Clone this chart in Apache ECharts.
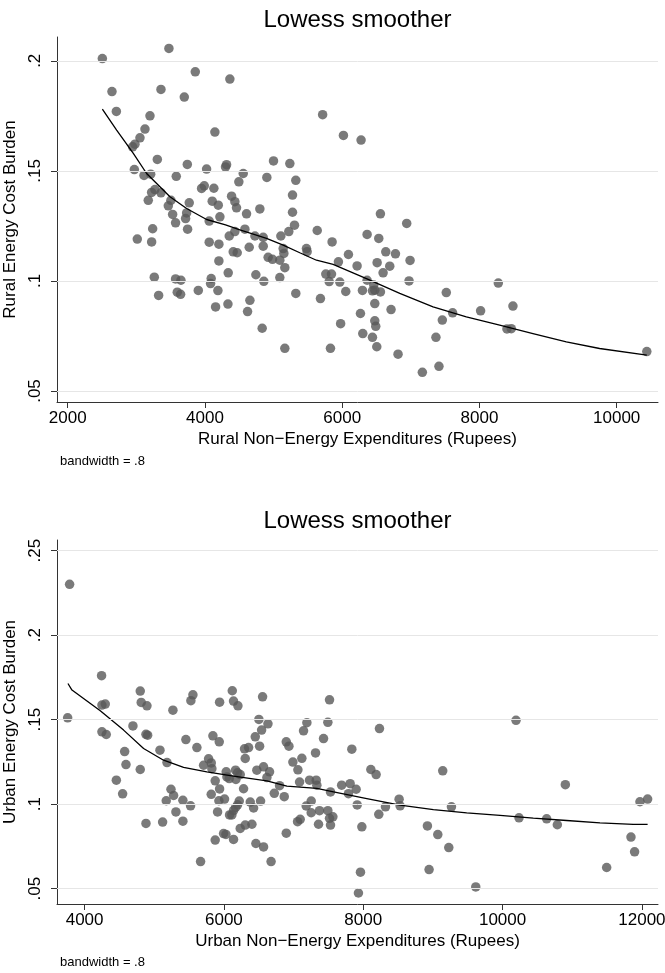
<!DOCTYPE html>
<html>
<head>
<meta charset="utf-8">
<script src="https://cdn.jsdelivr.net/npm/echarts@6/dist/echarts.min.js"></script>
<style>
  html, body { margin: 0; padding: 0; background: #fff; }
  #chart { width: 665px; height: 973px; }
</style>
</head>
<body>
<div id="chart"></div>
<script>
// rural panel
const ruralX = [2505, 3475, 2645, 2709, 3359, 3859, 3699, 4363, 3199, 3126, 3053, 2980, 2946, 4145, 5715,
  3306, 2971, 3112, 3209, 3743, 4024, 4300, 4315, 4558, 4494, 4902, 4999, 5237, 5324, 3582, 3951, 3990,
  4130, 3223, 3271, 3359, 3174, 3504, 3466, 3771, 4106, 4194, 4388, 4436, 4460, 4606, 4800, 5276, 5276,
  5305, 3529, 3733, 3718, 3572, 4062, 4218, 3238, 3747, 4582, 5222, 5636, 3014, 3223, 4062, 4203, 4354,
  4436, 4728, 4849, 4849, 4645, 4412, 4470, 5106, 5853, 5140, 5150, 4921, 4984, 5091, 5164, 4203, 4339,
  4742, 4858, 5091, 3262, 3572, 3650, 4091, 4082, 3325, 3597, 3645, 3903, 4189, 4155, 4335, 4655, 4621,
  4834, 5164, 5324, 5683, 5761, 5844, 5810, 5945, 5965, 5977, 5829, 5479, 5489, 6091, 6052, 6217, 6295,
  6363, 6363, 6533, 6557, 6509, 6635, 6776, 6693, 6596, 6940, 6989, 6974, 6460, 6475, 6441, 6557, 6475,
  6266, 6712, 6475, 6489, 6300, 6441, 6504, 6814, 7168, 7410, 7366, 7459, 7517, 7609, 8017, 8275, 8488,
  8401, 8464, 10439, 6018, 6275]
const ruralY = [0.201, 0.2056, 0.186, 0.177, 0.187, 0.195, 0.1835, 0.1917, 0.175, 0.169, 0.165, 0.1621, 0.1609, 0.1676, 0.1755,
  0.1552, 0.1506, 0.1479, 0.1485, 0.1529, 0.1508, 0.1518, 0.1528, 0.1488, 0.145, 0.147, 0.1545, 0.1533, 0.1457, 0.1475, 0.142, 0.1432,
  0.1421, 0.1402, 0.1415, 0.14, 0.1366, 0.1366, 0.1341, 0.1355, 0.1362, 0.1344, 0.1385, 0.136, 0.1332, 0.1305, 0.1327, 0.139, 0.1312,
  0.1253, 0.1302, 0.1309, 0.1283, 0.1264, 0.1272, 0.1291, 0.1237, 0.1235, 0.1235, 0.1224, 0.1229, 0.119, 0.1177, 0.1176, 0.1167, 0.1204,
  0.1224, 0.1204, 0.1198, 0.1158, 0.1153, 0.1132, 0.1128, 0.1204, 0.1177, 0.1147, 0.1125, 0.1107, 0.1098, 0.1094, 0.106, 0.1091, 0.1037,
  0.1028, 0.0998, 0.1015, 0.1017, 0.1009, 0.1003, 0.1011, 0.0988, 0.0934, 0.0949, 0.0939, 0.0957, 0.0956, 0.0882, 0.0895, 0.0912, 0.0861,
  0.0785, 0.0694, 0.0943, 0.092, 0.1031, 0.1031, 0.0997, 0.1087, 0.0995, 0.0806, 0.0694, 0.1147, 0.1133, 0.112, 0.0952, 0.1068, 0.0957,
  0.1003, 0.1211, 0.1193, 0.1305, 0.1083, 0.1132, 0.1123, 0.1067, 0.1037, 0.1261, 0.1093, 0.1, 0.0981, 0.0958, 0.0955, 0.095, 0.0897,
  0.0852, 0.087, 0.0819, 0.0794, 0.0761, 0.0744, 0.0701, 0.0667, 0.0585, 0.0612, 0.0744, 0.0822, 0.0947, 0.0855, 0.0864, 0.099, 0.0886,
  0.0782, 0.0783, 0.0679, 0.1661, 0.164]
const ruralFitX = [2505, 2713, 2956, 3150, 3490, 3733, 4024, 4300, 4509, 4897, 5140, 5382, 5625, 5868, 6353, 6839, 7324, 7809, 8295, 8780, 9266, 9751, 10439]
const ruralFitY = [0.178, 0.1685, 0.1579, 0.1488, 0.1382, 0.1329, 0.1279, 0.1255, 0.1232, 0.1193, 0.1163, 0.1128, 0.1094, 0.1075, 0.101, 0.0943, 0.0882, 0.0837, 0.0799, 0.0761, 0.0723, 0.0693, 0.0663]
const ruralXTicks = [2000, 4000, 6000, 8000, 10000]
const ruralYTicks = [0.05, 0.1, 0.15, 0.2]

// urban panel
const urbanX = [3785, 4244, 4799, 5555, 5526, 6120, 6555, 7516, 4249, 4297, 4813, 4895, 5268, 5938, 6138, 6201,
  3757, 4249, 4311, 4694, 4881, 4905, 4575, 4594, 4799, 4456, 4546, 4881, 5082, 5183, 5240, 5278, 5172, 5311,
  5411, 5411, 5120, 5521, 5454, 5612, 5708, 5780, 5818, 5827, 5842, 5933, 5665, 5875, 5938, 5818, 5928, 6009,
  5909, 5875, 5995, 6029, 6033, 6043, 6077, 6167, 6196, 6234, 6172, 6282, 6220, 6196, 6167, 6138, 6081, 6114,
  6138, 6234, 6306, 6402, 6306, 6296, 6354, 6450, 6502, 6541, 6632, 6512, 6473, 6569, 6655, 6617, 6378, 6426,
  6526, 6459, 6569, 6677, 6723, 6799, 6866, 6895, 6895, 6933, 6990, 7062, 7119, 7143, 7191, 7086, 7229, 7325,
  7334, 7315, 7430, 7492, 7253, 7181, 7253, 7372, 7358, 7492, 7516, 7530, 7564, 7057, 7095, 7530, 7690, 7836,
  7812, 7788, 7898, 7913, 7980, 8233, 8109, 8185, 8223, 8319, 8515, 8529, 7960, 7931, 8921, 9070, 9228, 9141,
  9266, 8945, 9615, 10193, 10236, 10633, 10786, 10901, 11494, 11843, 11895, 11972, 12082]
const urbanY = [0.2301, 0.176, 0.1669, 0.1647, 0.1612, 0.1671, 0.1635, 0.1617, 0.1586, 0.1592, 0.1602, 0.1582, 0.1556, 0.1603, 0.161, 0.1582,
  0.1511, 0.1428, 0.1412, 0.1463, 0.1413, 0.1408, 0.1311, 0.1234, 0.1205, 0.1142, 0.1061, 0.0886, 0.1319, 0.1246, 0.1088, 0.1051, 0.102, 0.0954,
  0.1023, 0.0899, 0.0894, 0.099, 0.1382, 0.1335, 0.123, 0.1268, 0.1244, 0.121, 0.1404, 0.1369, 0.066, 0.1138, 0.109, 0.1058, 0.102, 0.103,
  0.0954, 0.0787, 0.0826, 0.0821, 0.1191, 0.1161, 0.1151, 0.1201, 0.1185, 0.1175, 0.1146, 0.1091, 0.1018, 0.0996, 0.098, 0.0962, 0.0936, 0.0936,
  0.0791, 0.0856, 0.0876, 0.0881, 0.127, 0.1327, 0.1335, 0.1398, 0.1501, 0.1438, 0.1475, 0.1343, 0.1201, 0.1221, 0.1191, 0.1157, 0.1012, 0.0977,
  0.1018, 0.0767, 0.0747, 0.066, 0.1064, 0.1109, 0.1044, 0.0828, 0.1369, 0.1343, 0.1249, 0.1203, 0.1271, 0.1434, 0.1482, 0.1131, 0.1142, 0.1142,
  0.1112, 0.1303, 0.1388, 0.1484, 0.1018, 0.0989, 0.0949, 0.0961, 0.0881, 0.0961, 0.0916, 0.0876, 0.0925, 0.0896, 0.091, 0.1072, 0.1112, 0.1325,
  0.1121, 0.1062, 0.1088, 0.0995, 0.0866, 0.1447, 0.1205, 0.1175, 0.094, 0.0984, 0.1029, 0.099, 0.0597, 0.0474, 0.0871, 0.082, 0.0743, 0.1197,
  0.0984, 0.0613, 0.051, 0.1496, 0.0919, 0.0913, 0.0878, 0.1115, 0.0625, 0.0805, 0.0718, 0.1014, 0.103]
const urbanFitX = [3761, 3819, 4225, 4560, 4847, 5134, 5421, 5755, 6138, 6617, 6904, 7095, 7334, 7573, 8051, 8529, 9007, 9485, 9963, 10441, 10920, 11398, 11876, 12082]
const urbanFitY = [0.1714, 0.1675, 0.1552, 0.1438, 0.1329, 0.126, 0.1217, 0.1191, 0.1166, 0.1138, 0.1106, 0.1101, 0.1093, 0.1073, 0.1033, 0.0994, 0.0968, 0.0948, 0.0933, 0.0917, 0.0903, 0.0889, 0.088, 0.088]
const urbanXTicks = [4000, 6000, 8000, 10000, 12000]
const urbanYTicks = [0.05, 0.1, 0.15, 0.2, 0.25]

const FONT = '"Liberation Sans", Arial, sans-serif'
const pairs = (xs, ys) => xs.map((x, i) => [x, ys[i]])
const trimZero = v => String(v).replace(/^0\./, '.')

function xAxisFor(idx, name, ticks, min, max) {
  return {
    gridIndex: idx, type: 'value', min: min, max: max,
    name: name, nameLocation: 'middle', nameGap: 29,
    nameTextStyle: { fontFamily: FONT, fontSize: 17, color: '#000' },
    axisLine: { show: true, onZero: false, lineStyle: { color: '#333', width: 1 } },
    axisTick: { show: true, length: 6, customValues: ticks, lineStyle: { color: '#333' } },
    axisLabel: { customValues: ticks, margin: 8, formatter: v => String(v), fontFamily: FONT, fontSize: 17, color: '#000' },
    splitLine: { show: false }
  }
}

function yAxisFor(idx, name, ticks, min, max) {
  return {
    gridIndex: idx, type: 'value', min: min, max: max,
    name: name, nameLocation: 'middle', nameGap: 30,
    nameTextStyle: { fontFamily: FONT, fontSize: 17, color: '#000' },
    axisLine: { show: true, onZero: false, lineStyle: { color: '#333', width: 1 } },
    axisTick: { show: true, length: 6, customValues: ticks, lineStyle: { color: '#333' } },
    axisLabel: { customValues: ticks, rotate: 90, margin: 13, formatter: trimZero, fontFamily: FONT, fontSize: 17, color: '#000' },
    splitLine: { show: false }
  }
}

function panelSeries(idx, xs, ys, fx, fy, ticks) {
  return [{
    type: 'line', xAxisIndex: idx, yAxisIndex: idx, data: [], silent: true, z: 1,
    markLine: {
      silent: true, animation: false, symbol: ['none', 'none'], label: { show: false },
      lineStyle: { color: '#e6e6e6', width: 1, type: 'solid' },
      data: ticks.map(v => ({ yAxis: v }))
    }
  }, {
    type: 'scatter', xAxisIndex: idx, yAxisIndex: idx, z: 2,
    symbolSize: 9.5, itemStyle: { color: '#595959' },
    data: pairs(xs, ys)
  }, {
    type: 'line', xAxisIndex: idx, yAxisIndex: idx, z: 3,
    showSymbol: false, lineStyle: { color: '#000', width: 1.3 },
    data: pairs(fx, fy)
  }]
}

function label(text, x, y, size, align) {
  return {
    type: 'text', x: x, y: y, silent: true,
    style: { text: text, fontFamily: FONT, fontSize: size, fill: '#000', align: align, verticalAlign: 'middle' }
  }
}

const chart = echarts.init(document.getElementById('chart'))
chart.setOption({
  animation: false,
  backgroundColor: '#fff',
  grid: [
    { left: 57, top: 37, width: 601, height: 365, containLabel: false, outerBoundsMode: 'none' },
    { left: 57, top: 540, width: 601, height: 364, containLabel: false, outerBoundsMode: 'none' }
  ],
  xAxis: [
    xAxisFor(0, 'Rural Non\u2212Energy Expenditures (Rupees)', ruralXTicks, 1844, 10602),
    xAxisFor(1, 'Urban Non\u2212Energy Expenditures (Rupees)', urbanXTicks, 3604, 12231)
  ],
  yAxis: [
    yAxisFor(0, 'Rural Energy Cost Burden', ruralYTicks, 0.045, 0.2108),
    yAxisFor(1, 'Urban Energy Cost Burden', urbanYTicks, 0.0409, 0.2563)
  ],
  series: [
    ...panelSeries(0, ruralX, ruralY, ruralFitX, ruralFitY, ruralYTicks),
    ...panelSeries(1, urbanX, urbanY, urbanFitX, urbanFitY, urbanYTicks)
  ],
  graphic: [
    label('Lowess smoother', 357.5, 20, 24, 'center'),
    label('bandwidth = .8', 60, 461, 13, 'left'),
    label('Lowess smoother', 357.5, 521, 24, 'center'),
    label('bandwidth = .8', 60, 962, 13, 'left')
  ]
})
</script>
</body>
</html>
